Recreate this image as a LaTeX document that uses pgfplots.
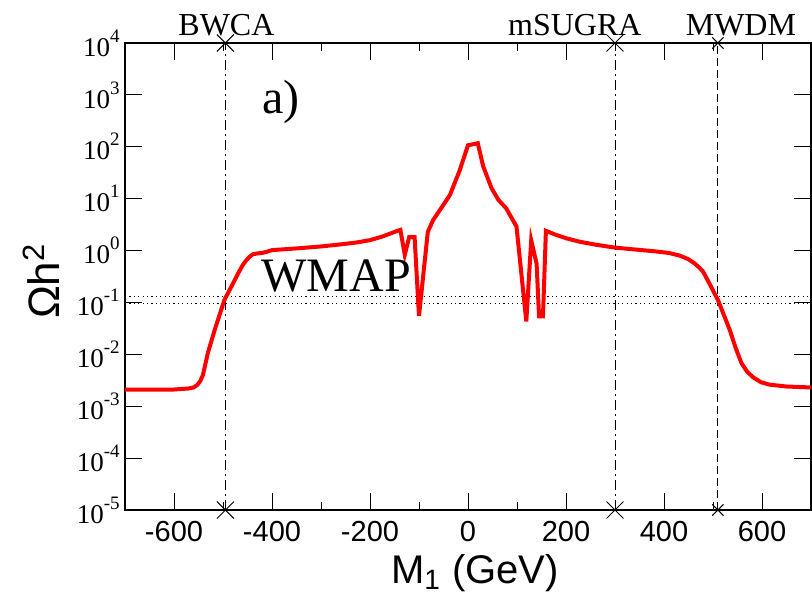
\documentclass[border=0pt]{standalone}
\usepackage{fontspec}
\setmainfont{Liberation Serif}
\setsansfont{Liberation Sans}
\usepackage{pgfplots}
\pgfplotsset{compat=1.18}

% decade label in the serif text font, exponent raised
\newcommand{\dec}[1]{10\raisebox{7pt}{\fontsize{9.5}{9.5}\selectfont #1}}

\begin{document}
\begin{tikzpicture}
\begin{axis}[
  scale only axis,
  width=343pt, height=233.5pt,
  xmin=-700, xmax=700,
  ymode=log, ymin=1e-5, ymax=1e4,
  clip=false,
  axis line style={line width=0.6pt},
  every tick/.style={black, line width=0.5pt},
  tick align=inside,
  xtick pos=both, ytick pos=both,
  xticklabel pos=lower, yticklabel pos=left,
  major tick length=8.5pt, minor tick length=4.2pt,
  xtick={-600,-400,-200,0,200,400,600},
  xticklabels={-600,-400,-200,0,200,400,600},
  minor xtick={-500,-300,-100,100,300,500},
  ytick={1e-5,1e-4,1e-3,1e-2,1e-1,1,10,100,1000,10000},
  yticklabels={\dec{-5},\dec{-4},\dec{-3},\dec{-2},\dec{-1},\dec{0},\dec{1},\dec{2},\dec{3},\dec{4}},
  yminorticks=false,
  xticklabel style={font=\sffamily\fontsize{14.5}{14.5}\selectfont, yshift=-2pt},
  yticklabel style={font=\fontsize{13.5}{13.5}\selectfont, inner sep=2.5pt},
  xlabel={M\textsubscript{1} (GeV)},
  xlabel style={font=\sffamily\fontsize{20}{20}\selectfont, at={(axis description cs:0.51,-0.1563)}, anchor=base, inner sep=0pt},
  ylabel={Ωh\textsuperscript{2}},
  ylabel style={font=\sffamily\fontsize{22}{22}\selectfont, at={(axis description cs:-0.0948,0.49)}, anchor=south, inner sep=0pt},
]
\coordinate (SW) at (rel axis cs:0,0);

% WMAP band
\addplot[black, line width=0.6pt, dash pattern=on 0.6pt off 1.6pt] coordinates {(-700,0.094) (700,0.094)};
\addplot[black, line width=0.6pt, dash pattern=on 0.6pt off 1.6pt] coordinates {(-700,0.129) (700,0.129)};

% benchmark lines
\addplot[black, line width=0.5pt, dash pattern=on 5pt off 2pt on 1pt off 2pt,
  mark=x, mark size=6pt, mark options={solid, line width=0.5pt}]
  coordinates {(-495,1e-5) (-495,1e4)};
\addplot[black, line width=0.5pt, dash pattern=on 5pt off 2pt on 1pt off 2pt,
  mark=x, mark size=6pt, mark options={solid, line width=0.5pt}]
  coordinates {(300,1e-5) (300,1e4)};
\addplot[black, line width=0.5pt, dash pattern=on 4pt off 2pt,
  mark=x, mark size=4pt, mark options={solid, line width=0.5pt}]
  coordinates {(510,1e-5) (510,1e4)};

% relic density
\addplot[red, line width=2pt] coordinates {
  (-700,0.0021) (-650,0.0021) (-600,0.0021) (-570,0.0022) (-560,0.0023)
  (-552,0.0026) (-546,0.0031) (-541,0.0040) (-531,0.0105) (-517,0.0295)
  (-497,0.112) (-486,0.178) (-476,0.27) (-468,0.38) (-460,0.52) (-452,0.66)
  (-445,0.77) (-439,0.85) (-430,0.88) (-420,0.90) (-410,0.95)
  (-400,1.02) (-350,1.10) (-300,1.20) (-268,1.29) (-230,1.42) (-201,1.58)
  (-175,1.86) (-144,2.4) (-138,2.5) (-129,0.83) (-120,1.82) (-109,1.82) (-100,0.055)
  (-82,2.3) (-71,3.9) (-55,6.5) (-37,11.7) (-17,35) (0,107) (20,117) (31,42)
  (48,16) (62,9.5) (78,6.5) (99,2.9) (119,0.043) (129,1.58) (140,0.56) (145,0.054)
  (153,0.054) (159,2.4) (180,2.0) (200,1.73) (228,1.48) (260,1.30) (300,1.14)
  (340,1.05) (380,0.97) (410,0.90) (432,0.80) (450,0.68) (463,0.56) (472,0.47)
  (480,0.39) (495,0.21) (510,0.112) (522,0.058) (534,0.030) (546,0.0135)
  (558,0.0068) (570,0.0046) (582,0.0036) (598,0.0029) (616,0.0026)
  (650,0.0024) (700,0.0023)
};

% annotations
\node[font=\fontsize{16}{16}\selectfont, anchor=south, inner sep=0pt, yshift=3.5pt] at (axis cs:-493,1e4) {BWCA};
\node[font=\fontsize{16}{16}\selectfont, anchor=south, inner sep=0pt, yshift=3.5pt] at (axis cs:218,1e4) {mSUGRA};
\node[font=\fontsize{16}{16}\selectfont, anchor=south, inner sep=0pt, yshift=3.5pt] at (axis cs:557,1e4) {MWDM};
\node[font=\fontsize{24}{24}\selectfont, anchor=base, inner sep=0pt] at (axis cs:-382,447) {a)};
\node[font=\fontsize{24}{24}\selectfont, anchor=base, inner sep=0pt] at (axis cs:-269,0.162) {WMAP};
\end{axis}
\pgfresetboundingbox
\path ([shift={(-62.5pt,-45.5pt)}]SW) rectangle ([shift={(343.5pt,255pt)}]SW);
\end{tikzpicture}
\end{document}
